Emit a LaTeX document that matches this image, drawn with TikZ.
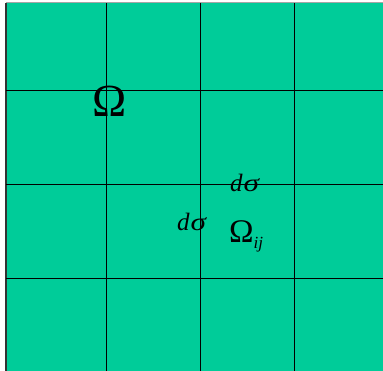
\documentclass[tikz,border=0pt]{standalone}
\usepackage{fontspec}
\setmainfont{Liberation Serif}
\definecolor{fieldgreen}{RGB}{0,204,153}
\newcommand{\dsig}{{\fontsize{25}{25}\selectfont\itshape d\kern1pt\scalebox{1.25}[1]{σ}}}
\begin{document}
\begin{tikzpicture}[x=1pt,y=1pt,
  gridline/.style={black,line width=0.9pt},
  lbl/.style={inner sep=0pt,anchor=base west}]
\useasboundingbox (0,0) rectangle (383,371);
\fill[white] (0,0) rectangle (383,371);
\fill[fieldgreen] (6,0) rectangle (383,367.5);
\draw[gray!70,line width=1pt] (6,368) -- (383,368);
\draw[black!80,line width=1.2pt] (6,0) -- (6,367.5);
\foreach \x in {106,200,294} \draw[gridline] (\x,0) -- (\x,367.5);
\foreach \y in {281,187,93} \draw[gridline] (6,\y) -- (383,\y);
\node[lbl,anchor=base] (om) at (110,254) {\fontsize{46}{46}\selectfont Ω};
\node[lbl] (ds1) at (230,179) {\dsig};
\node[lbl] (ds2) at (177,140) {\dsig};
\node[lbl] (omij) at (229,128) {\fontsize{33}{33}\selectfont Ω\raisebox{-6pt}{\fontsize{17}{17}\selectfont\itshape ij}};
\end{tikzpicture}
\end{document}
